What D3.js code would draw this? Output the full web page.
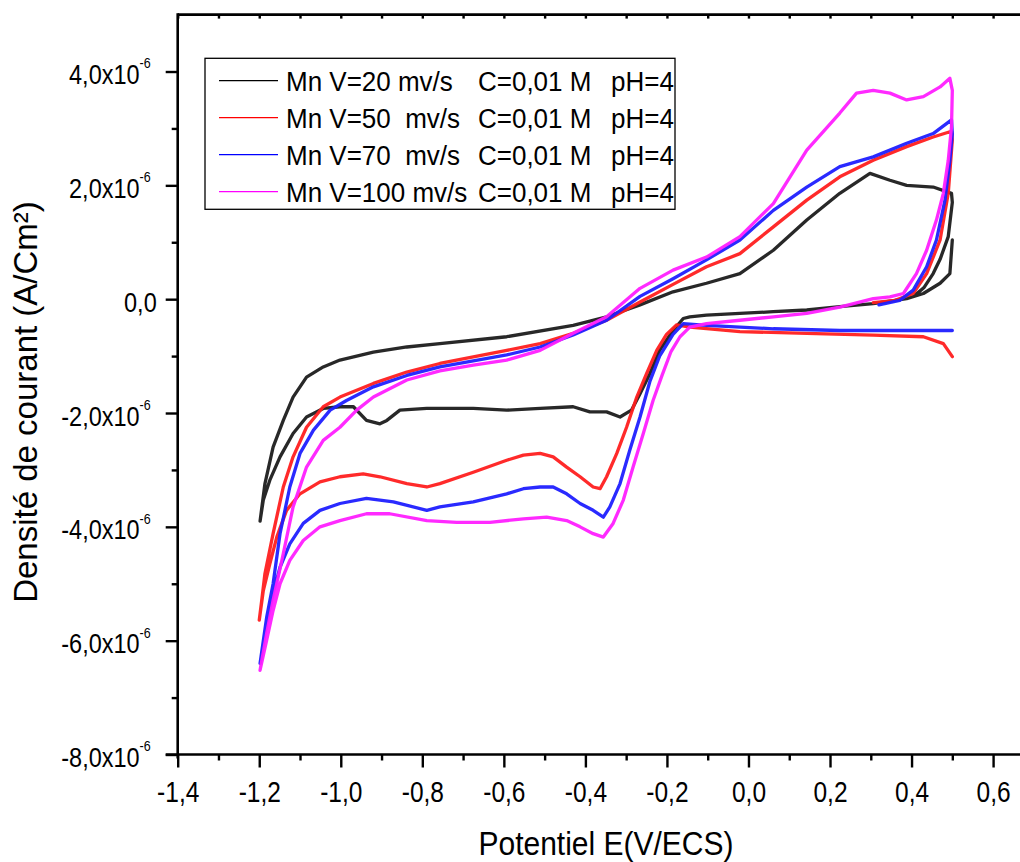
<!DOCTYPE html>
<html>
<head>
<meta charset="utf-8">
<script src="https://cdn.jsdelivr.net/npm/d3@7"></script>
<style>
  body { margin: 0; background: #fff; }
  svg { display: block; font-family: "Liberation Sans", Arial, sans-serif; }
  .pre { white-space: pre; }
</style>
</head>
<body>
<script>
// current density in units of 1e-6 A/cm², potential in V/ECS
var xTicks = [-1.4, -1.2, -1.0, -0.8, -0.6, -0.4, -0.2, 0.0, 0.2, 0.4, 0.6];
var xTickLabels = ["-1,4", "-1,2", "-1,0", "-0,8", "-0,6", "-0,4", "-0,2", "0,0", "0,2", "0,4", "0,6"];
var xMinorTicks = [-1.3, -1.1, -0.9, -0.7, -0.5, -0.3, -0.1, 0.1, 0.3, 0.5];
var yTicks = [4, 2, 0, -2, -4, -6, -8];
var yTickLabels = ["4,0x10", "2,0x10", "0,0", "-2,0x10", "-4,0x10", "-6,0x10", "-8,0x10"];
var yTickExp = ["-6", "-6", "", "-6", "-6", "-6", "-6"];
var yMinorTicks = [3, 1, -1, -3, -5, -7];

var seriesNames = ["Mn V=20 mv/s", "Mn V=50  mv/s", "Mn V=70  mv/s", "Mn V=100 mv/s"];
var seriesConc = ["C=0,01 M", "C=0,01 M", "C=0,01 M", "C=0,01 M"];
var seriesPH = ["pH=4", "pH=4", "pH=4", "pH=4"];
var seriesColors = ["#1c1c1c", "#ff1f1f", "#1f1fff", "#ff1fff"];
var legendColors = ["#000000", "#ff0000", "#0000ff", "#ff00ff"];

var cv20 = [
    [0.500, 1.04], [0.494, 0.45], [0.470, 0.28], [0.429, 0.10], [0.388, 0.01], [0.306, -0.08],
    [0.224, -0.13], [0.143, -0.19], [0.061, -0.22], [-0.021, -0.25], [-0.103, -0.28], [-0.144, -0.31],
    [-0.160, -0.34], [-0.185, -0.55], [-0.218, -0.90], [-0.242, -1.31], [-0.266, -1.66], [-0.287, -1.95],
    [-0.315, -2.07], [-0.348, -1.98], [-0.389, -1.98], [-0.430, -1.89], [-0.511, -1.92], [-0.593, -1.95],
    [-0.675, -1.92], [-0.757, -1.92], [-0.789, -1.92], [-0.855, -1.95], [-0.887, -2.13], [-0.904, -2.19],
    [-0.937, -2.13], [-0.969, -1.89], [-1.002, -1.89], [-1.043, -1.92], [-1.084, -2.07], [-1.117, -2.36],
    [-1.149, -2.77], [-1.174, -3.18], [-1.190, -3.53], [-1.198, -3.90],
    [-1.186, -3.24], [-1.166, -2.60], [-1.141, -2.13], [-1.117, -1.72], [-1.084, -1.37], [-1.043, -1.19],
    [-1.002, -1.07], [-0.920, -0.93], [-0.838, -0.84], [-0.757, -0.78], [-0.593, -0.66], [-0.430, -0.46],
    [-0.348, -0.31], [-0.266, -0.10], [-0.185, 0.13], [-0.103, 0.28], [-0.021, 0.45], [0.061, 0.86],
    [0.143, 1.39], [0.224, 1.86], [0.298, 2.21], [0.347, 2.09], [0.388, 2.00], [0.453, 1.97], [0.498, 1.86],
    [0.500, 1.70], [0.490, 1.10], [0.470, 0.70], [0.453, 0.45], [0.430, 0.20], [0.410, 0.08]
];

var cv50 = [
    [0.500, -1.01], [0.478, -0.78], [0.429, -0.66], [0.306, -0.63], [0.143, -0.60], [-0.021, -0.57],
    [-0.144, -0.49], [-0.176, -0.45], [-0.201, -0.62], [-0.225, -0.90], [-0.250, -1.31], [-0.274, -1.72],
    [-0.299, -2.25], [-0.323, -2.71], [-0.348, -3.12], [-0.364, -3.33], [-0.381, -3.30], [-0.413, -3.12],
    [-0.446, -2.95], [-0.479, -2.77], [-0.511, -2.71], [-0.552, -2.74], [-0.593, -2.83], [-0.675, -3.04],
    [-0.757, -3.24], [-0.789, -3.30], [-0.838, -3.24], [-0.904, -3.12], [-0.945, -3.07], [-1.002, -3.12],
    [-1.051, -3.21], [-1.100, -3.42], [-1.133, -3.71], [-1.157, -4.18], [-1.174, -4.65], [-1.190, -5.12],
    [-1.200, -5.64],
    [-1.194, -5.30], [-1.186, -4.82], [-1.166, -4.12], [-1.141, -3.30], [-1.117, -2.77], [-1.084, -2.25],
    [-1.043, -1.89], [-1.002, -1.72], [-0.920, -1.48], [-0.838, -1.28], [-0.757, -1.13], [-0.593, -0.90],
    [-0.511, -0.78], [-0.430, -0.60], [-0.348, -0.37], [-0.266, -0.05], [-0.185, 0.26], [-0.103, 0.57],
    [-0.021, 0.80], [0.061, 1.27], [0.143, 1.74], [0.224, 2.15], [0.306, 2.44], [0.388, 2.68],
    [0.453, 2.85], [0.498, 2.95],
    [0.500, 2.80], [0.490, 1.86], [0.470, 1.04], [0.437, 0.45], [0.404, 0.10], [0.360, -0.02], [0.306, -0.06]
];

var cv70 = [
    [0.500, -0.55], [0.388, -0.55], [0.224, -0.55], [0.061, -0.52], [-0.103, -0.46], [-0.160, -0.43],
    [-0.185, -0.62], [-0.218, -1.00], [-0.242, -1.45], [-0.266, -2.07], [-0.291, -2.65], [-0.315, -3.24],
    [-0.340, -3.65], [-0.356, -3.83], [-0.381, -3.71], [-0.413, -3.59], [-0.446, -3.42], [-0.479, -3.30],
    [-0.511, -3.30], [-0.552, -3.33], [-0.593, -3.42], [-0.675, -3.56], [-0.757, -3.65], [-0.789, -3.71],
    [-0.871, -3.56], [-0.937, -3.50], [-1.002, -3.59], [-1.051, -3.71], [-1.092, -3.94], [-1.125, -4.30],
    [-1.149, -4.71], [-1.166, -5.17], [-1.182, -5.70], [-1.198, -6.40],
    [-1.182, -5.60], [-1.166, -5.00], [-1.149, -4.12], [-1.125, -3.30], [-1.100, -2.71], [-1.067, -2.30],
    [-1.026, -1.95], [-0.986, -1.78], [-0.920, -1.54], [-0.838, -1.34], [-0.757, -1.19], [-0.593, -0.98],
    [-0.511, -0.84], [-0.430, -0.63], [-0.348, -0.37], [-0.266, 0.05], [-0.185, 0.36], [-0.103, 0.69],
    [-0.021, 1.04], [0.061, 1.56], [0.143, 1.97], [0.224, 2.33], [0.306, 2.50], [0.388, 2.74],
    [0.453, 2.91], [0.498, 3.15],
    [0.500, 2.90], [0.494, 2.44], [0.482, 1.74], [0.461, 1.04], [0.437, 0.57], [0.404, 0.16], [0.371, -0.02], [0.320, -0.10]
];

var cv100 = [
    [0.500, 3.67], [0.498, 3.03], [0.490, 2.44], [0.478, 1.86], [0.461, 1.39], [0.437, 0.86],
    [0.412, 0.45], [0.380, 0.10], [0.347, 0.04], [0.306, 0.01], [0.224, -0.14], [0.143, -0.25],
    [0.061, -0.31], [-0.021, -0.37], [-0.103, -0.43], [-0.144, -0.49], [-0.168, -0.66], [-0.190, -0.92],
    [-0.212, -1.34], [-0.234, -1.78], [-0.258, -2.36], [-0.283, -2.95], [-0.307, -3.53], [-0.332, -3.94],
    [-0.356, -4.18], [-0.381, -4.12], [-0.413, -4.00], [-0.446, -3.89], [-0.495, -3.83], [-0.552, -3.86],
    [-0.634, -3.92], [-0.716, -3.92], [-0.789, -3.89], [-0.880, -3.77], [-0.937, -3.77], [-1.002, -3.89],
    [-1.051, -4.00], [-1.092, -4.24], [-1.125, -4.59], [-1.149, -5.00], [-1.166, -5.47], [-1.182, -6.00],
    [-1.198, -6.52],
    [-1.182, -5.88], [-1.166, -5.29], [-1.141, -4.47], [-1.117, -3.65], [-1.084, -2.95], [-1.043, -2.48],
    [-1.002, -2.25], [-0.961, -1.95], [-0.920, -1.72], [-0.838, -1.42], [-0.757, -1.26], [-0.675, -1.16],
    [-0.593, -1.07], [-0.511, -0.90], [-0.430, -0.60], [-0.348, -0.31], [-0.266, 0.19], [-0.185, 0.51],
    [-0.103, 0.74], [-0.021, 1.10], [0.061, 1.68], [0.143, 2.62], [0.224, 3.27], [0.265, 3.62],
    [0.306, 3.67], [0.347, 3.62], [0.388, 3.50], [0.429, 3.56], [0.470, 3.73], [0.494, 3.88], [0.500, 3.67]
];

var allSeries = [cv20, cv50, cv70, cv100];

var svg = d3.select("body").append("svg")
    .attr("width", 1020)
    .attr("height", 862);

var x = d3.scaleLinear().domain([-1.4, 0.666]).range([177.7, 1020]);
var y = d3.scaleLinear().domain([-8, 5]).range([754.5, 14.6]);

var axisColor = "#000";
var axisWidth = 2.6;

// curves (the measured traces are noisy, so draw them a bit heavy)
var line = d3.line()
    .x(function(d) { return x(d[0]); })
    .y(function(d) { return y(d[1]); });

svg.append("g").selectAll("path")
    .data(allSeries)
    .enter().append("path")
        .attr("d", line)
        .attr("fill", "none")
        .attr("stroke", function(d, i) { return seriesColors[i]; })
        .attr("stroke-width", 3.3)
        .attr("stroke-opacity", 0.95)
        .attr("stroke-linejoin", "round")
        .attr("stroke-linecap", "round");

// bottom axis
var xAxisG = svg.append("g").attr("transform", "translate(0," + y(-8) + ")");
xAxisG.call(d3.axisBottom(x).tickValues(xTicks).tickSize(13).tickFormat(""))
    .select(".domain").remove();
svg.append("g").attr("transform", "translate(0," + y(-8) + ")")
    .call(d3.axisBottom(x).tickValues(xMinorTicks).tickSize(6).tickFormat(""))
    .select(".domain").remove();

xAxisG.selectAll(".tick").append("text")
    .attr("transform", "translate(0,47) scale(1,1.2)")
    .attr("text-anchor", "middle")
    .attr("fill", "#000")
    .style("font-family", "'Liberation Sans', Arial, sans-serif")
    .style("font-size", "24.5px")
    .text(function(d, i) { return xTickLabels[i]; });

// top border ticks
svg.append("g").attr("transform", "translate(0," + y(5) + ")")
    .call(d3.axisBottom(x).tickValues(xTicks.concat(xMinorTicks)).tickSize(4).tickFormat(""))
    .select(".domain").remove();

// left axis
var yAxisG = svg.append("g").attr("transform", "translate(" + x(-1.4) + ",0)");
yAxisG.call(d3.axisLeft(y).tickValues(yTicks).tickSize(12).tickFormat(""))
    .select(".domain").remove();
svg.append("g").attr("transform", "translate(" + x(-1.4) + ",0)")
    .call(d3.axisLeft(y).tickValues(yMinorTicks).tickSize(6).tickFormat(""))
    .select(".domain").remove();

var yLabels = yAxisG.selectAll(".tick").append("text")
    .attr("transform", function(d) { return "translate(" + (d === 0 ? -21 : -27) + ",12) scale(1,1.2)"; })
    .attr("text-anchor", "end")
    .attr("fill", "#000")
    .style("font-family", "'Liberation Sans', Arial, sans-serif")
    .style("font-size", "23.5px");
yLabels.append("tspan").text(function(d, i) { return yTickLabels[i]; });
yLabels.append("tspan")
    .attr("dy", -13)
    .style("font-size", "12.5px")
    .text(function(d, i) { return yTickExp[i]; });

svg.selectAll(".tick line")
    .attr("stroke", axisColor)
    .attr("stroke-width", 2.4);

// axis lines
svg.append("line")
    .attr("x1", x(-1.4) - 12).attr("x2", 1020)
    .attr("y1", y(-8)).attr("y2", y(-8))
    .attr("stroke", axisColor).attr("stroke-width", axisWidth);
svg.append("line")
    .attr("x1", x(-1.4)).attr("x2", 1020)
    .attr("y1", y(5)).attr("y2", y(5))
    .attr("stroke", axisColor).attr("stroke-width", axisWidth);
svg.append("line")
    .attr("x1", x(-1.4)).attr("x2", x(-1.4))
    .attr("y1", y(5) - 1.3).attr("y2", y(-8) + 4)
    .attr("stroke", axisColor).attr("stroke-width", axisWidth);

// axis titles
svg.append("text")
    .attr("transform", "translate(606,855) scale(1,1.08)")
    .attr("text-anchor", "middle")
    .style("font-size", "30px")
    .text("Potentiel E(V/ECS)");

svg.append("text")
    .attr("transform", "translate(37,402) rotate(-90)")
    .attr("text-anchor", "middle")
    .style("font-size", "33px")
    .text("Densité de courant (A/Cm²)");

// legend
var legend = svg.append("g");
legend.append("rect")
    .attr("x", 205).attr("y", 58.3)
    .attr("width", 470).attr("height", 151)
    .attr("fill", "#fff")
    .attr("stroke", "#000")
    .attr("stroke-width", 1.3);

var rows = legend.selectAll(".row")
    .data(seriesNames)
    .enter().append("g")
        .attr("class", "row")
        .attr("transform", function(d, i) { return "translate(0," + (80.7 + i * 37) + ")"; });

rows.append("line")
    .attr("x1", 219).attr("x2", 278)
    .attr("stroke", function(d, i) { return legendColors[i]; })
    .attr("stroke-width", 1.3);

rows.append("text")
    .attr("class", "pre")
    .attr("transform", "translate(286,10) scale(1,1.07)")
    .style("font-size", "26px")
    .text(function(d) { return d; });
rows.append("text")
    .attr("transform", "translate(478,10) scale(1,1.07)")
    .style("font-size", "26px")
    .text(function(d, i) { return seriesConc[i]; });
rows.append("text")
    .attr("transform", "translate(611,10) scale(1,1.07)")
    .style("font-size", "26px")
    .text(function(d, i) { return seriesPH[i]; });
</script>
</body>
</html>
